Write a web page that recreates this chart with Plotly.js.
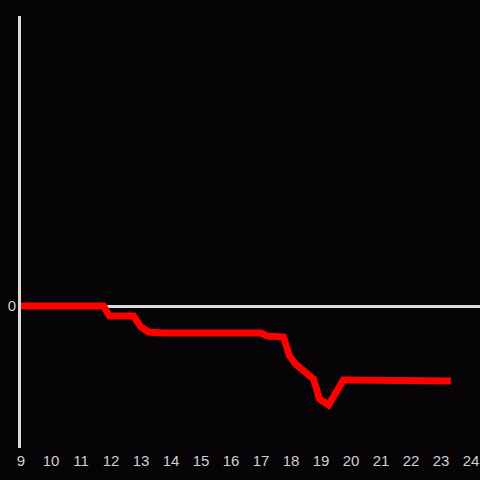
<!DOCTYPE html>
<html>
<head>
<meta charset="utf-8">
<script src="https://cdn.plot.ly/plotly-3.0.1.min.js"></script>
<style>html,body{margin:0;padding:0;background:#060407;}#chart{width:480px;height:480px;}</style>
</head>
<body>
<div id="chart"></div>
<script>
const xValues = [9, 11.75, 11.95, 12.75, 13.0, 13.25, 13.7, 17.0, 17.2, 17.75, 17.95, 18.15, 18.75, 18.95, 19.25, 19.75, 19.9, 23.33];
const yValues = [0, 0, -1.0, -1.0, -2.1, -2.6, -2.7, -2.7, -3.0, -3.1, -5.0, -5.8, -7.3, -9.3, -9.9, -7.4, -7.4, -7.5];
const xTicks = [9,10,11,12,13,14,15,16,17,18,19,20,21,22,23,24];
const yTicks = [0];

Plotly.newPlot('chart', [{
  x: xValues, y: yValues, type: 'scatter', mode: 'lines',
  line: {color: '#ff0000', width: 7}, hoverinfo: 'skip'
}], {
  width: 480, height: 480,
  paper_bgcolor: '#060407', plot_bgcolor: '#060407',
  margin: {l: 21, r: 0, t: 16, b: 32},
  showlegend: false,
  font: {family: 'Liberation Sans, Arial, sans-serif', size: 15, color: '#d0d0d0'},
  xaxis: {range: [9, 24.3], tickvals: xTicks, ticktext: xTicks.map(String),
    showgrid: false, zeroline: false, showline: false, ticks: '', fixedrange: true,
    ticklabelstandoff: 2},
  yaxis: {range: [-14.2, 29.0], tickvals: yTicks, ticktext: ['0'],
    showgrid: false, zeroline: true, zerolinecolor: '#dcdcdc', zerolinewidth: 3,
    showline: true, linecolor: '#dcdcdc', linewidth: 3, ticks: '', fixedrange: true,
    ticklabelstandoff: -1}
}, {staticPlot: true});
</script>
</body>
</html>
